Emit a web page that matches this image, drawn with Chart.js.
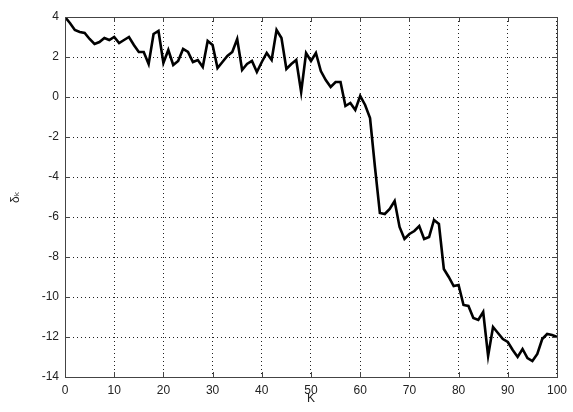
<!DOCTYPE html>
<html>
<head>
<meta charset="utf-8">
<script src="https://cdn.jsdelivr.net/npm/chart.js@4/dist/chart.umd.min.js"></script>
<style>
  html, body { margin: 0; padding: 0; background: #fff; }
  canvas { display: block; }
</style>
</head>
<body>
<canvas id="s_a" width="573" height="412"></canvas>
<script>
var a = document.getElementById("s_a");

// delta_k for K = 0..100
var deltaK = [
  4.0, 3.7, 3.35, 3.25, 3.2, 2.9, 2.65, 2.75, 2.95, 2.85,
  3.0, 2.7, 2.85, 3.0, 2.6, 2.25, 2.25, 1.65, 3.15, 3.3,
  1.7, 2.35, 1.6, 1.8, 2.4, 2.25, 1.75, 1.85, 1.5, 2.8,
  2.6, 1.45, 1.75, 2.05, 2.25, 2.9, 1.35, 1.65, 1.8, 1.25,
  1.75, 2.2, 1.85, 3.35, 2.95, 1.4, 1.65, 1.85, 0.25, 2.2,
  1.8, 2.2, 1.3, 0.85, 0.5, 0.75, 0.75, -0.45, -0.3, -0.65,
  0.05, -0.4, -1.05, -3.5, -5.8, -5.85, -5.6, -5.2, -6.5, -7.1,
  -6.85, -6.7, -6.45, -7.1, -7.0, -6.15, -6.35, -8.6, -9.0, -9.45,
  -9.4, -10.4, -10.45, -11.05, -11.15, -10.75, -12.95, -11.5, -11.8, -12.1,
  -12.25, -12.65, -13.0, -12.6, -13.05, -13.2, -12.85, -12.1, -11.85, -11.9,
  -12.0
];
var xTicks = [0, 10, 20, 30, 40, 50, 60, 70, 80, 90, 100];
var yTicks = [4, 2, 0, -2, -4, -6, -8, -10, -12, -14];

var points = deltaK.map(function (v, i) { return { x: i, y: v }; });

var font = { family: "'Liberation Sans', Arial, 'DejaVu Sans', sans-serif", size: 12 };
var dotted = { color: "#222", lineWidth: 1, drawTicks: false };

// box around the plot with small inward ticks, matlab style
var boxPlugin = {
  id: "box",
  afterDraw: function (chart) {
    var ctx = chart.ctx, ca = chart.chartArea;
    var xs = chart.scales.x, ys = chart.scales.y;
    ctx.save();
    ctx.strokeStyle = "#444";
    ctx.lineWidth = 1;
    ctx.strokeRect(ca.left + 0.5, ca.top + 0.5, ca.right - ca.left, ca.bottom - ca.top);
    ctx.beginPath();
    xTicks.forEach(function (t) {
      var px = Math.round(xs.getPixelForValue(t)) + 0.5;
      ctx.moveTo(px, ca.bottom); ctx.lineTo(px, ca.bottom - 5);
      ctx.moveTo(px, ca.top); ctx.lineTo(px, ca.top + 5);
    });
    yTicks.forEach(function (t) {
      var py = Math.round(ys.getPixelForValue(t)) + 0.5;
      ctx.moveTo(ca.left, py); ctx.lineTo(ca.left + 5, py);
      ctx.moveTo(ca.right, py); ctx.lineTo(ca.right - 5, py);
    });
    ctx.stroke();
    ctx.restore();
  }
};

var A = new Chart(a, {
  type: "line",
  data: {
    datasets: [{
      data: points,
      borderColor: "#000",
      borderWidth: 2.6,
      pointRadius: 0,
      tension: 0,
      fill: false
    }]
  },
  options: {
    responsive: false,
    animation: false,
    parsing: true,
    layout: { padding: { left: 0, right: 14, top: 17, bottom: 0 } },
    plugins: { legend: { display: false }, tooltip: { enabled: false } },
    scales: {
      x: {
        type: "linear",
        min: 0,
        max: 100,
        afterFit: function (s) { s.height = 35; },
        afterBuildTicks: function (s) { s.ticks = xTicks.map(function (v) { return { value: v }; }); },
        grid: Object.assign({ borderDash: [1, 3] }, dotted),
        border: { display: false, dash: [1, 3] },
        ticks: { color: "#222", font: font, padding: 6, maxRotation: 0 },
        title: { display: true, text: "K", color: "#222", font: font, padding: { top: 0, bottom: 6 } }
      },
      y: {
        min: -14,
        max: 4,
        afterFit: function (s) { s.width = 65; },
        afterBuildTicks: function (s) { s.ticks = yTicks.map(function (v) { return { value: v }; }); },
        grid: Object.assign({}, dotted),
        border: { display: false, dash: [1, 3] },
        ticks: { color: "#222", font: font, padding: 6 },
        title: { display: true, text: "δₖ", color: "#222", font: font, padding: { top: 8, bottom: 0 } }
      }
    }
  },
  plugins: [boxPlugin]
});
</script>
</body>
</html>
